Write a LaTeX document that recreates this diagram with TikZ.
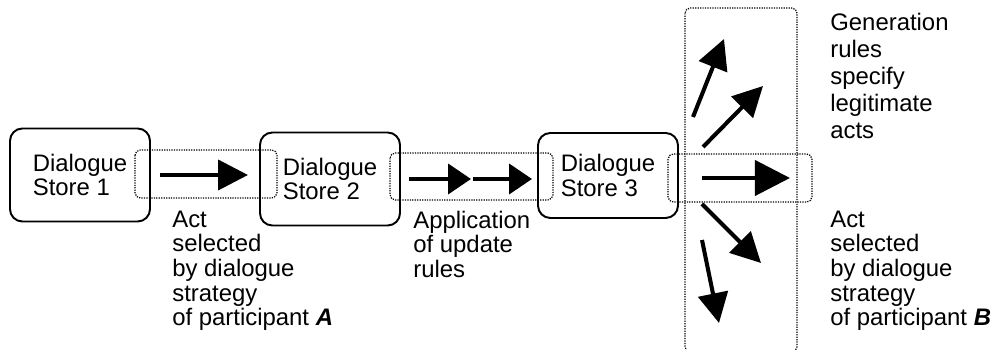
\documentclass[tikz,border=0pt]{standalone}
\usepackage{fontspec}
\setmainfont{Liberation Sans}
\usepackage{tikz}
\usetikzlibrary{arrows.meta}
\tikzstyle{store} = [draw, line width=1.1pt, rounded corners=7pt, minimum width=2.8cm, align=left, inner sep=0pt]
\tikzstyle{selbox} = [line width=0.7pt, dash pattern=on 0.7pt off 0.7pt, rounded corners=3pt]
\tikzstyle{act} = [line width=2.3pt, -{Triangle[length=17pt,width=17pt]}]
\tikzstyle{note} = [align=left, anchor=north west, inner sep=0pt]

\begin{document}
\begin{tikzpicture}[x=0.02cm, y=-0.02cm, font=\fontsize{13.6pt}{14pt}\selectfont]
\useasboundingbox (0,0) rectangle (995,350);
\node[store, minimum height=1.86cm] (s1) at (80,175) {Dialogue\\Store 1};
\node[store, minimum height=1.86cm] (s2) at (330,179) {Dialogue\\Store 2};
\node[store, minimum height=1.7cm] (s3) at (608,175.5) {Dialogue\\Store 3};
\draw[selbox] (135,150) rectangle (277,198);
\draw[selbox] (390,153) rectangle (553,200);
\draw[selbox] (668,154) rectangle (812,202);
\draw[selbox] (685,8) rectangle (797,352);
\coordinate (a1) at (160,175); \coordinate (b1) at (248,175);
\coordinate (a2) at (409,179); \coordinate (b2) at (471,179);
\coordinate (a3) at (473,179); \coordinate (b3) at (532,179);
\coordinate (a4) at (702,178); \coordinate (b4) at (790,178);
\coordinate (a5) at (693,117); \coordinate (b5) at (724,39);
\coordinate (a6) at (703,147); \coordinate (b6) at (763,86);
\coordinate (a7) at (702,204); \coordinate (b7) at (761,263);
\coordinate (a8) at (702,240); \coordinate (b8) at (719,323);
\draw[act] (a1) -- (b1);
\draw[act, -{Triangle[length=13pt,width=17pt]}] (a2) -- (b2);
\draw[act, -{Triangle[length=13pt,width=17pt]}] (a3) -- (b3);
\draw[act, -{Triangle[length=20pt,width=20pt]}] (a4) -- (b4);
\draw[act] (a5) -- (b5);
\draw[act] (a6) -- (b6);
\draw[act] (a7) -- (b7);
\draw[act] (a8) -- (b8);
\node[note] (selA) at (172,210.5) {Act\\selected\\by dialogue\\strategy\\of participant \textbf{\textit{A}}};
\node[note] (upd) at (413,210.5) {Application\\of update\\rules};
\node[note, font=\fontsize{13.6pt}{15.3pt}\selectfont] (gen) at (830,13) {Generation\\rules\\specify\\legitimate\\acts};
\node[note] (selB) at (830,210.5) {Act\\selected\\by dialogue\\strategy\\of participant \textbf{\textit{B}}};
\end{tikzpicture}
\end{document}
